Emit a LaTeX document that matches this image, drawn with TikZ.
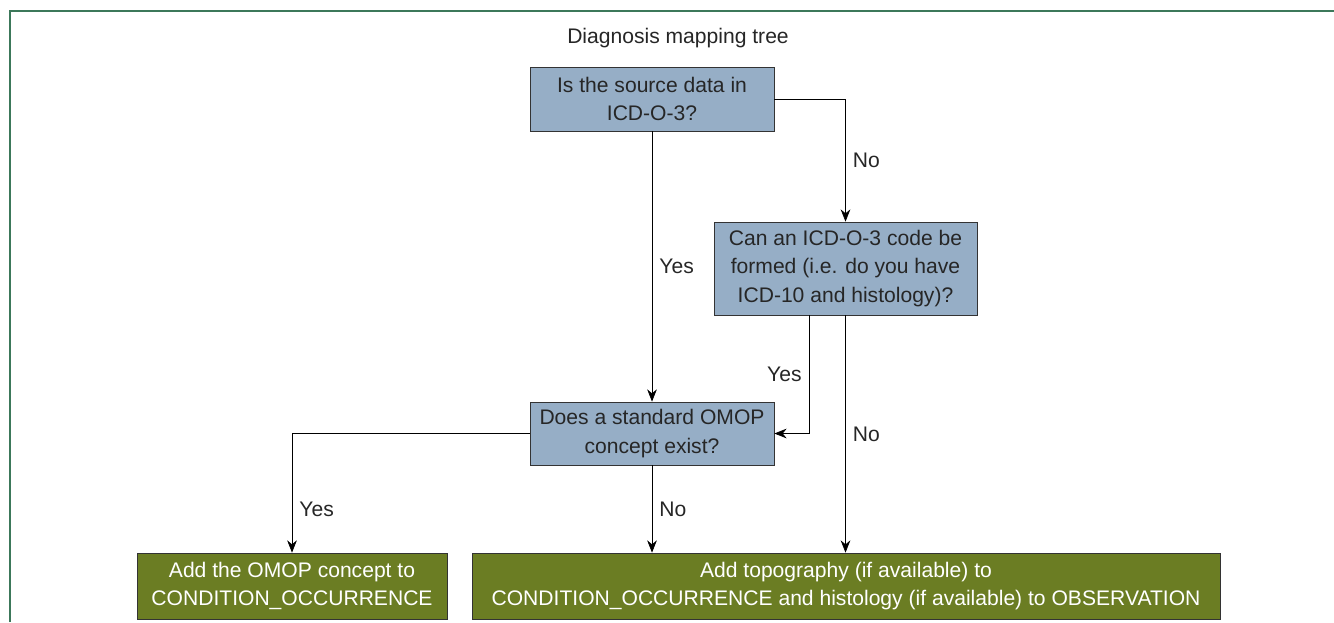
\documentclass[tikz,border=0pt]{standalone}
\usepackage{fontspec}
\setmainfont{Liberation Sans}
\usetikzlibrary{arrows.meta}
\definecolor{qblue}{RGB}{150,174,198}
\definecolor{rgreen}{RGB}{107,125,35}
\definecolor{frame}{RGB}{60,120,90}
\tikzset{
  question/.style={draw=black!80,fill=qblue,text=black!85,align=center,inner sep=0pt},
  result/.style={draw=black!80,fill=rgreen,text=white,align=center,inner sep=0pt},
  lbl/.style={inner sep=4pt,text=black!85},
}
\begin{document}
\begin{tikzpicture}[x=0.02cm,y=-0.02cm,font=\fontsize{12}{16.4}\selectfont,>={Stealth[length=7pt,width=5.5pt]},thin]
	\useasboundingbox (0,0) rectangle (1334,622);
	\draw[frame,line width=1.2pt] (10,622) -- (10,11) -- (1334,11); %Rahmen
	\node[text=black!85] (title) at (678,38) {Diagnosis mapping tree};
	\node[question,minimum width=4.88cm,minimum height=1.28cm] (src) at (652,99) {Is the source data in\\ICD-O-3?};
	\node[question,minimum width=5.26cm,minimum height=1.86cm] (form) at (845.5,268.5) {Can an ICD-O-3 code be\\formed (i.e. do you have\\ICD-10 and histology)?};
	\node[question,minimum width=4.88cm,minimum height=1.26cm] (std) at (652,433.5) {Does a standard OMOP\\concept exist?};
	\node[result,minimum width=6.2cm,minimum height=1.32cm] (addomop) at (292,586) {Add the OMOP concept to\\CONDITION\_OCCURRENCE};
	\node[result,minimum width=14.96cm,minimum height=1.32cm] (addtopo) at (846,586) {Add topography (if available) to\\CONDITION\_OCCURRENCE and histology (if available) to OBSERVATION};
	\coordinate (yesx) at (809,0);
	\draw[->] (src.east) -| node[lbl,pos=0.75,right]{No} (form.north);
	\draw[->] (src.south) -- node[lbl,right]{Yes} (std.north);
	\draw[->] (form.south -| yesx) |- node[lbl,pos=0.25,left]{Yes} (std.east);
	\draw[->] (form.south) -- node[lbl,right]{No} (form.south |- addtopo.north);
	\draw[->] (std.west) -| node[lbl,pos=0.82,right]{Yes} (addomop.north);
	\draw[->] (std.south) -- node[lbl,right]{No} (std.south |- addtopo.north);
\end{tikzpicture}
\end{document}
